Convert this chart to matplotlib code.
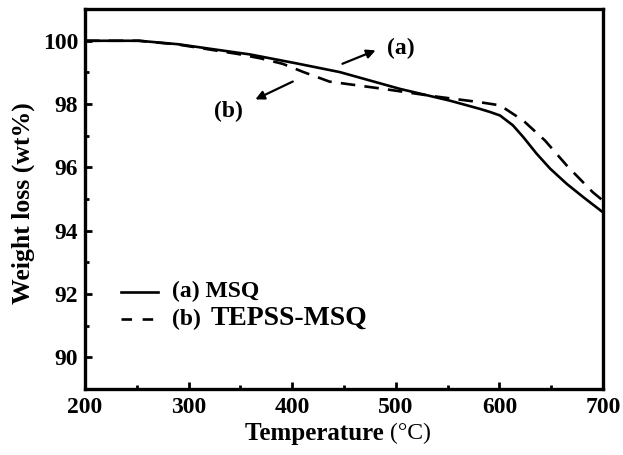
import numpy as np
import matplotlib
matplotlib.use("Agg")
import matplotlib.pyplot as plt

# TGA curves
temp_a = [200, 252, 290, 348, 359, 405, 446, 504, 552, 581, 591, 600.6, 613, 623, 636, 649, 665, 681, 700]
wt_a = [100.0, 100.0, 99.89, 99.62, 99.57, 99.28, 99.01, 98.48, 98.11, 97.85, 97.75, 97.64, 97.33, 96.96, 96.43, 95.96, 95.48, 95.06, 94.58]

temp_b = [200, 252, 290, 348, 370, 391, 411, 436, 488, 536, 581, 600.6, 623, 644, 665, 690, 700]
wt_b = [100.0, 100.0, 99.88, 99.58, 99.44, 99.27, 99.01, 98.71, 98.48, 98.25, 98.06, 97.96, 97.48, 96.85, 96.06, 95.22, 94.95]

xticks = [200, 300, 400, 500, 600, 700]
yticks = [90, 92, 94, 96, 98, 100]

plt.rcParams['font.family'] = ['Liberation Serif', 'DejaVu Serif']
plt.rcParams['font.weight'] = 'bold'

fig = plt.figure(figsize=(6.23, 4.55), dpi=100)
ax = fig.add_axes([0.1364, 0.145, 0.8315, 0.835])

dash = (0, (5.5, 3.5))
ax.plot(temp_a, wt_a, color='black', lw=1.9)
ax.plot(temp_b, wt_b, color='black', lw=1.9, ls=dash)

ax.set_xlim(200, 700)
ax.set_ylim(89, 101)
ax.set_xticks(xticks)
ax.set_yticks(yticks)
ax.set_xticks(np.arange(250, 700, 100), minor=True)
ax.set_yticks(np.arange(89, 101, 2), minor=True)
ax.tick_params(direction='in', length=5, width=2, labelsize=17)
ax.tick_params(axis='x', pad=6)
ax.tick_params(axis='y', pad=5)
ax.tick_params(which='minor', direction='in', length=3, width=2)
for s in ax.spines.values():
    s.set_linewidth(2.4)

ax.set_ylabel('Weight loss (wt%)', fontsize=18.5, fontweight='bold')
ax.yaxis.set_label_coords(-0.12, 0.49)
ax.yaxis.label.set_verticalalignment('center')

# x label: bold word, plain unit
ax.text(0.589, -0.116, 'Temperature ', transform=ax.transAxes, fontsize=18,
        fontweight='bold', ha='right', va='center')
ax.text(0.589, -0.116, '(°C)', transform=ax.transAxes, fontsize=17,
        fontweight='normal', ha='left', va='center')

# arrows with labels
ax.annotate('', xy=(483, 99.73), xytext=(446, 99.24),
            arrowprops=dict(arrowstyle='-|>', color='black', lw=1.6, mutation_scale=13))
ax.text(505, 99.75, '(a)', fontsize=17, fontweight='bold', ha='center', va='center')
ax.annotate('', xy=(362, 98.11), xytext=(403, 98.75),
            arrowprops=dict(arrowstyle='-|>', color='black', lw=1.6, mutation_scale=13))
ax.text(338, 97.78, '(b)', fontsize=17, fontweight='bold', ha='center', va='center')

# legend drawn by hand like the original
ax.plot([235, 270], [92.08, 92.08], color='black', lw=1.9)
ax.plot([235, 270], [91.2, 91.2], color='black', lw=1.9, ls=(0, (4, 4)))
ax.text(284, 92.08, '(a) MSQ', fontsize=17, fontweight='bold', va='center')
ax.text(284, 91.2, '(b)', fontsize=17, fontweight='bold', va='center')
ax.text(321, 91.24, 'TEPSS-MSQ', fontsize=20, fontweight='bold', va='center')

fig.savefig('out.png', dpi=100)
